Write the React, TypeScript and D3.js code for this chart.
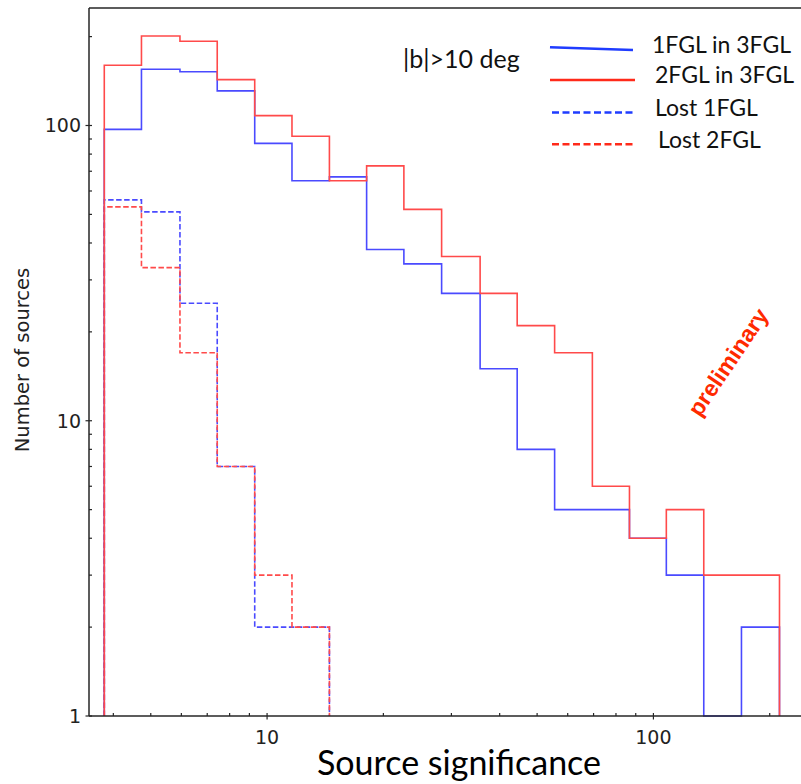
import React from 'react';
import * as d3 from 'd3';

// histogram bin edges (source significance), log-spaced
const binEdges = [3.79, 4.73, 5.95, 7.43, 9.29, 11.6, 14.5, 18.1, 22.6, 28.3, 35.6, 44.4, 55.5, 69.5, 86.7, 108, 135, 169, 212];

// counts per bin
const found1FGL = [97, 155, 152, 131, 87, 65, 67, 38, 34, 27, 15, 8, 5, 5, 4, 3, 0, 2];
const found2FGL = [160, 201, 193, 143, 108, 92, 65, 73, 52, 36, 27, 21, 17, 6, 4, 5, 3, 3];
const lost1FGL = [56, 51, 25, 7, 2, 2];
const lost2FGL = [53, 33, 17, 7, 3, 2];

const xTickLabels = ['10', '100'];
const yTickLabels = ['1', '10', '100'];

const legendItems = [
  { label: '1FGL in 3FGL', color: '#1f3cff', dash: null },
  { label: '2FGL in 3FGL', color: '#ff2a1a', dash: null },
  { label: 'Lost 1FGL', color: '#1f3cff', dash: '7,3.5' },
  { label: 'Lost 2FGL', color: '#ff2a1a', dash: '7,3.5' },
];

const W = 801;
const H = 784;
const left = 89;
const right = 801;
const top = 8;
const bottom = 716;

const x = d3.scaleLog().domain([3.46, 241]).range([left, right]);
const y = d3.scaleLog().domain([1, 250]).range([bottom, top]);

const yv = (v: number) => (v > 0 ? y(v) : bottom);

// step outline like matplotlib histtype='step'
const stepPath = (counts: number[]) => {
  const pts: [number, number][] = [[x(binEdges[0]), bottom]];
  counts.forEach((c, i) => {
    pts.push([x(binEdges[i]), yv(c)]);
    pts.push([x(binEdges[i + 1]), yv(c)]);
  });
  pts.push([x(binEdges[counts.length]), bottom]);
  return d3.line()(pts) as string;
};

const isMajor = (v: number) => Math.abs(Math.log10(v) - Math.round(Math.log10(v))) < 1e-9;

const sans = '"DejaVu Sans", sans-serif';
const calib = 'Lato, "Open Sans", sans-serif';
const axisColor = '#262626';

export default function App() {
  const blue = '#4a4aff';
  const red = '#ff4a4a';
  const xt = x.ticks();
  const ytk = y.ticks();
  return (
    <svg width={W} height={H} style={{ position: 'absolute', left: 0, top: 0, background: '#fff' }}>
      <rect width={W} height={H} fill="#fff" />
      {/* histograms */}
      <path d={stepPath(lost1FGL)} fill="none" stroke={blue} strokeWidth={1.6} strokeDasharray="5.5,2.5" />
      <path d={stepPath(lost2FGL)} fill="none" stroke={red} strokeWidth={1.6} strokeDasharray="5.5,2.5" />
      <path d={stepPath(found1FGL)} fill="none" stroke={blue} strokeWidth={1.6} />
      <path d={stepPath(found2FGL)} fill="none" stroke={red} strokeWidth={1.6} />

      {/* frame */}
      <line x1={left} x2={right} y1={top} y2={top} stroke={axisColor} strokeWidth={1.5} />
      <line x1={left} x2={left} y1={top} y2={bottom} stroke={axisColor} strokeWidth={1.5} />
      <line x1={left} x2={right} y1={bottom} y2={bottom} stroke={axisColor} strokeWidth={1.5} />

      {/* x ticks */}
      {xt.map((t, i) => (
        <line key={'xt' + i} x1={x(t)} x2={x(t)} y1={bottom - 3} y2={isMajor(t) ? bottom + 3.5 : bottom}
          stroke={axisColor} strokeWidth={1.2} />
      ))}
      {xt.filter(isMajor).map((t, i) => (
        <text key={'xl' + i} x={x(t)} y={744} textAnchor="middle" fontFamily={sans} fontSize={19} fill="#222">
          {xTickLabels[i]}
        </text>
      ))}

      {/* y ticks */}
      {ytk.map((t, i) => (
        <line key={'yt' + i} x1={isMajor(t) ? left - 3.5 : left} x2={left + 3} y1={y(t)} y2={y(t)}
          stroke={axisColor} strokeWidth={1.2} />
      ))}
      {ytk.filter(isMajor).map((t, i) => (
        <text key={'yl' + i} x={81} y={y(t)} dy="0.36em" textAnchor="end" fontFamily={sans} fontSize={19} fill="#222">
          {yTickLabels[i]}
        </text>
      ))}

      {/* axis titles */}
      <text transform="translate(29,360) rotate(-90)" textAnchor="middle" fontFamily={sans} fontSize={19.5} fill="#222">
        Number of sources
      </text>
      <text x={459} y={775} textAnchor="middle" fontFamily={calib} fontSize={34} fill="#000">
        Source significance
      </text>

      {/* annotations */}
      <text x={403} y={68} fontFamily={calib} fontSize={25} fill="#111">|b|&gt;10 deg</text>
      <text transform="translate(728,362) rotate(-56)" textAnchor="middle" dy="0.35em"
        fontFamily='"Liberation Sans", Arial, sans-serif' fontWeight="bold" fontSize={23} fill="#ff2a00">
        preliminary
      </text>

      {/* legend */}
      {legendItems.map((d, i) => {
        const ly = [48.5, 80, 112.5, 144.3][i];
        const tx = [652, 655, 655, 658][i];
        const by = [53, 83, 116, 147.5][i];
        return (
          <g key={'lg' + i}>
            <line x1={i < 2 ? 550 : 552} x2={i === 0 ? 633 : 635} y1={i === 0 ? 47.3 : ly} y2={i === 0 ? 50 : ly}
              stroke={d.color} strokeWidth={2.6} strokeDasharray={d.dash ?? undefined} />
            <text x={tx} y={by} fontFamily={calib} fontSize={23} fill="#111">{d.label}</text>
          </g>
        );
      })}
    </svg>
  );
}
